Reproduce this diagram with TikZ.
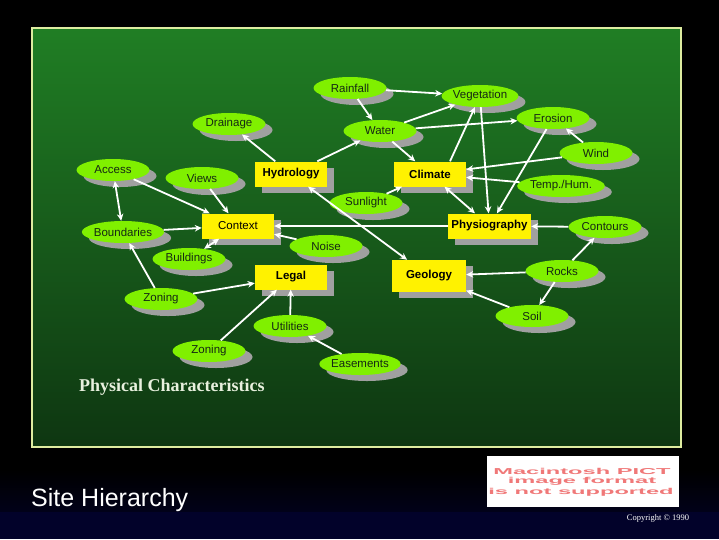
\documentclass[tikz,border=0pt]{standalone}
\usepackage{fontspec}
\setmainfont{Liberation Serif}
\setsansfont{Liberation Sans}
\usetikzlibrary{shapes.geometric,shadows,arrows.meta}
\definecolor{lime}{RGB}{128,240,0}
\definecolor{shgray}{RGB}{160,160,160}
\definecolor{ovaltext}{RGB}{20,40,20}
\definecolor{paneltop}{RGB}{32,126,36}
\definecolor{panelbot}{RGB}{14,54,17}
\definecolor{panelborder}{RGB}{222,236,160}
\definecolor{navy}{RGB}{2,2,42}
\definecolor{pictpink}{RGB}{240,120,120}
\definecolor{caption}{RGB}{232,240,222}
\begin{document}
\begin{tikzpicture}[x=1pt,y=-1pt,
  oval/.style={ellipse, fill=lime, minimum width=73pt, minimum height=22pt, inner sep=0pt,
    font=\sffamily\fontsize{11.5}{12}\selectfont, text=ovaltext,
    copy shadow={shadow xshift=7pt, shadow yshift=-6pt, fill=shgray, draw=none}},
  box/.style={rectangle, fill=yellow, minimum width=72pt, minimum height=25pt, inner sep=0pt,
    font=\sffamily\bfseries\fontsize{11.5}{12}\selectfont, text=black,
    copy shadow={shadow xshift=7pt, shadow yshift=-6pt, fill=shgray, draw=none}},
  link/.style={draw=white, line width=1.8pt, -{Stealth[length=7pt,width=6.5pt]}},
  twoway/.style={draw=white, line width=1.8pt, {Stealth[length=7pt,width=6.5pt]}-{Stealth[length=7pt,width=6.5pt]}},
  picttext/.style={text=pictpink, font=\sffamily\bfseries\fontsize{8.6}{9}\selectfont, xscale=2.75, transform shape, inner sep=0pt}
]
\useasboundingbox (0,0) rectangle (719,539);
% background
\fill[black] (0,0) rectangle (719,539);
\shade[top color=black, bottom color=navy!60!black] (0,470) rectangle (719,512);
\fill[navy] (0,512) rectangle (719,539);
% panel
\shade[top color=paneltop, bottom color=panelbot] (32,28) rectangle (681,447);
\draw[panelborder, line width=2.5pt] (32,28) rectangle (681,447);

% ovals
\node[oval] (rain) at (350,88) {Rainfall};
\node[oval] (veg) at (480,96) {Vegetation};
\node[oval] (drain) at (229,124) {Drainage};
\node[oval] (water) at (380,131) {Water};
\node[oval] (eros) at (553,118) {Erosion};
\node[oval] (wind) at (596,153) {Wind};
\node[oval] (temp) at (561,186) {Temp./Hum.};
\node[oval] (access) at (113,170) {Access};
\node[oval] (views) at (202,178) {Views};
\node[oval] (sun) at (366,203) {Sunlight};
\node[oval] (bound) at (123,232) {Boundaries};
\node[oval] (cont) at (605,227) {Contours};
\node[oval] (noise) at (326,246) {Noise};
\node[oval] (build) at (189,259) {Buildings};
\node[oval] (rocks) at (562,271) {Rocks};
\node[oval] (zon1) at (161,299) {Zoning};
\node[oval] (soil) at (532,316) {Soil};
\node[oval] (util) at (290,326) {Utilities};
\node[oval] (zon2) at (209,351) {Zoning};
\node[oval] (ease) at (360,364) {Easements};

% boxes
\node[box] (hydro) at (291,174) {Hydrology};
\node[box] (climate) at (430,174) {Climate};
\node[box, font=\sffamily\fontsize{11.5}{12}\selectfont] (context) at (238,226) {Context};
\node[box, minimum width=83pt] (physio) at (489.5,226) {Physiography};
\node[box] (legal) at (291,277) {Legal};
\node[box, minimum width=74pt, minimum height=32pt] (geology) at (429,276) {Geology};

% connectors
\draw[link] (rain) -- (veg);
\draw[link] (rain) -- (water);
\draw[link] (water) -- (veg);
\draw[link] (water) -- (eros);
\draw[link] (water) -- (climate);
\draw[link] (hydro) -- (drain);
\draw[link] (hydro) -- (water);
\draw[link] ([xshift=20pt]climate.north) -- (veg);
\draw[link] (veg) -- (physio);
\draw[link] (eros) -- (physio);
\draw[link] (wind) -- (eros);
\draw[link] (wind) -- (climate);
\draw[link] (temp) -- (climate);
\draw[twoway] (climate) -- (physio);
\draw[link] (sun) -- (climate);
\draw[twoway] (access) -- (bound);
\draw[link] (access) -- (context);
\draw[link] (views) -- (context);
\draw[link] (bound) -- (context);
\draw[link] (physio) -- (context);
\draw[link] (noise) -- (context);
\draw[twoway] (context) -- (build);
\draw[twoway] (hydro) -- (geology);
\draw[link] (zon1) -- (bound);
\draw[link] (zon1) -- (legal);
\draw[link] (zon2) -- (legal);
\draw[link] (util) -- (legal);
\draw[link] (ease) -- (util);
\draw[link] (rocks) -- (geology);
\draw[link] (soil) -- (geology);
\draw[link] (rocks) -- (soil);
\draw[link] (rocks) -- (cont);
\draw[link] (cont) -- (physio);

% captions
\node[anchor=west, inner sep=0pt, text=caption, font=\bfseries\fontsize{18}{20}\selectfont] (phys) at (79,387) {Physical Characteristics};
\node[anchor=west, inner sep=0pt, text=white, font=\sffamily\fontsize{25}{28}\selectfont] (site) at (31,500) {Site Hierarchy};
\node[inner sep=0pt, text=white, font=\fontsize{8.5}{10}\selectfont] (copy) at (658,518) {Copyright \textcopyright{} 1990};

% unsupported image placeholder
\node[fill=white, minimum width=192pt, minimum height=51pt, inner sep=0pt] (pict) at (583,481.5) {};
\node[picttext] (p1) at (582,471) {Macintosh PICT};
\node[picttext] (p2) at (582,481.5) {image format};
\node[picttext] (p3) at (581,492) {is not supported};
\end{tikzpicture}
\end{document}
